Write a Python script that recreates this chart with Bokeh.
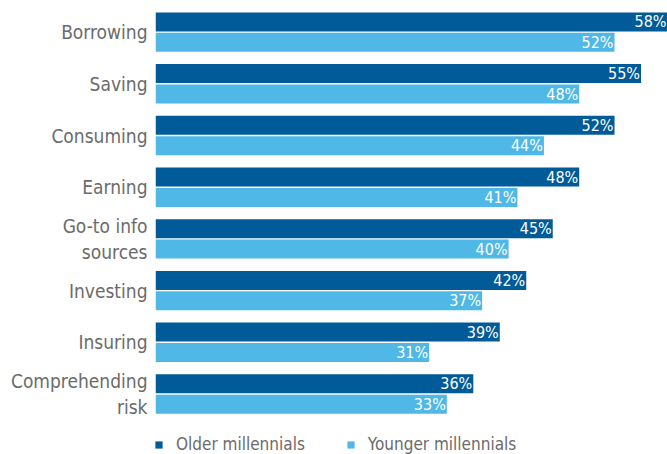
from bokeh.plotting import figure
from bokeh.models import Range1d, FixedTicker, ColumnDataSource, Legend, LegendItem
from bokeh.core.properties import value
from bokeh.embed import file_html
from bokeh.resources import INLINE

categories = ["Borrowing", "Saving", "Consuming", "Earning", "Go-to info\nsources",
              "Investing", "Insuring", "Comprehending\nrisk"]
older = [58, 55, 52, 48, 45, 42, 39, 36]
younger = [52, 48, 44, 41, 40, 37, 31, 33]
series_names = ["Older millennials", "Younger millennials"]

DARK = "#005b98"
LIGHT = "#4fb8e7"
GRAY = "#6b6b6b"
FONT = "DejaVu Sans Condensed"

W, H = 667, 454
pitch = 51.7
c0 = 31.6
top = -c0 / pitch
bottom = (H - c0) / pitch
off = 10.2 / pitch
bh = 19.0 / pitch

idx = list(range(len(categories)))
src_o = ColumnDataSource(dict(y=[i - off for i in idx], v=older, lab=[f"{v}%" for v in older]))
src_y = ColumnDataSource(dict(y=[i + off for i in idx], v=younger, lab=[f"{v}%" for v in younger]))

p = figure(width=W, height=H, output_backend="svg", toolbar_location=None,
           x_range=Range1d(0, 58), y_range=Range1d(bottom, top),
           min_border_left=155, min_border_right=0, min_border_top=0, min_border_bottom=0)
p.outline_line_color = None
p.xaxis.visible = False
p.xgrid.visible = False
p.ygrid.visible = False
p.background_fill_color = None
p.border_fill_color = "white"

r1 = p.hbar(y="y", right="v", left=0, height=bh, source=src_o, color=DARK, line_color=None)
r2 = p.hbar(y="y", right="v", left=0, height=bh, source=src_y, color=LIGHT, line_color=None)

for s in (src_o, src_y):
    p.text(x="v", y="y", text="lab", source=s, text_align="right", text_baseline="middle",
           x_offset=-1, text_color="white", text_font=value(FONT), text_font_size="16px")

ya = p.yaxis[0]
ya.ticker = FixedTicker(ticks=idx)
ya.major_label_overrides = {i: c for i, c in zip(idx, categories)}
ya.axis_line_color = None
ya.major_tick_line_color = None
ya.minor_tick_line_color = None
ya.major_label_text_font = FONT
ya.major_label_text_font_size = "19px"
ya.major_label_text_color = GRAY
ya.major_label_standoff = 2
ya.major_label_text_align = "right"

legend = Legend(items=[LegendItem(label=series_names[0], renderers=[r1]),
                       LegendItem(label=series_names[1], renderers=[r2])],
                orientation="horizontal", location=(-1, 0),
                glyph_width=9, glyph_height=9, label_standoff=13, spacing=41,
                padding=0, margin=0, border_line_color=None, background_fill_alpha=0,
                label_text_font=FONT, label_text_font_size="17px", label_text_color=GRAY,
                label_height=20)
p.add_layout(legend, "center")

open("out.html", "w").write(file_html(p, INLINE))
